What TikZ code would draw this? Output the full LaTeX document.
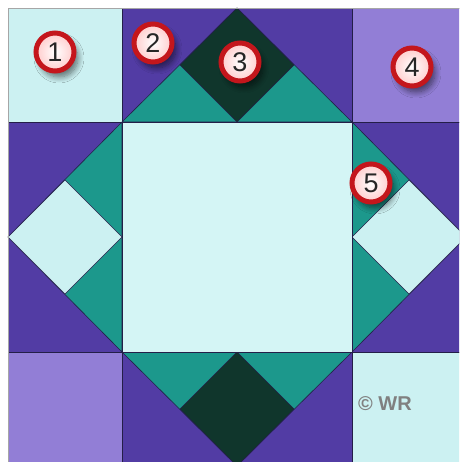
\documentclass[tikz,border=0pt]{standalone}
\usepackage{fontspec}
\setmainfont{Liberation Sans}
\usetikzlibrary{shadows.blur}
\definecolor{purp}{RGB}{82,60,164}
\definecolor{lav}{RGB}{146,126,214}
\definecolor{teal2}{RGB}{28,152,140}
\definecolor{dgreen}{RGB}{16,54,44}
\definecolor{light}{RGB}{204,241,242}
\definecolor{lightc}{RGB}{212,245,245}
\definecolor{seam}{RGB}{36,30,72}
\definecolor{ringred}{RGB}{196,22,28}
\tikzset{
  piece/.style={draw=seam, line width=0.6pt, line join=miter},
  badge/.style={circle, minimum size=38pt, inner sep=0pt,
    draw=ringred, line width=5pt, inner color=white, outer color=white!80!red,
    font=\fontsize{27}{27}\selectfont, text=black!85,
    blur shadow={shadow xshift=4pt, shadow yshift=-6pt, shadow blur steps=10, shadow opacity=55, shadow blur radius=6pt}},
  cmark/.style={font=\fontsize{20}{20}\selectfont\bfseries, text=black!50}
}
\begin{document}
\begin{tikzpicture}[x=1pt,y=-1pt]
\useasboundingbox (0,0) rectangle (459,462);
\fill[white] (0,0) rectangle (459,462);
\clip (0,0) rectangle (459,462);
% corners
\draw[piece, fill=light] (8,8) rectangle (122,122);
\draw[piece, fill=lav] (352,8) rectangle (466,122);
\draw[piece, fill=lav] (8,352) rectangle (122,466);
\draw[piece, fill=light] (352,352) rectangle (466,466);
% top middle
\draw[piece, fill=purp] (122,8) rectangle (352,122);
\draw[piece, fill=teal2] (122,122) -- (237,8) -- (352,122) -- cycle;
\draw[piece, fill=dgreen] (237,8) -- (294,65) -- (237,122) -- (180,65) -- cycle;
% bottom middle
\draw[piece, fill=purp] (122,352) rectangle (352,466);
\draw[piece, fill=teal2] (122,352) -- (237,466) -- (352,352) -- cycle;
\draw[piece, fill=dgreen] (237,352) -- (294,409) -- (237,466) -- (180,409) -- cycle;
% left middle
\draw[piece, fill=purp] (8,122) rectangle (122,352);
\draw[piece, fill=teal2] (122,122) -- (8,237) -- (122,352) -- cycle;
\draw[piece, fill=light] (8,237) -- (65,180) -- (122,237) -- (65,294) -- cycle;
% right middle
\draw[piece, fill=purp] (352,122) rectangle (466,352);
\draw[piece, fill=teal2] (352,122) -- (466,237) -- (352,352) -- cycle;
\draw[piece, fill=light] (352,237) -- (409,180) -- (466,237) -- (409,294) -- cycle;
% centre
\draw[piece, fill=lightc] (122,122) rectangle (352,352);
% outer edge
\draw[gray!70, line width=0.8pt] (8,462) -- (8,8) -- (459,8);
% badges
\node[badge] (b1) at (55,52) {1};
\node[badge] (b2) at (153,43) {2};
\node[badge] (b3) at (240,62) {3};
\node[badge] (b4) at (412,67) {4};
\node[badge] (b5) at (371,183) {5};
% copyright mark
\node[cmark] (cm) at (385,404) {© WR};
\end{tikzpicture}
\end{document}
